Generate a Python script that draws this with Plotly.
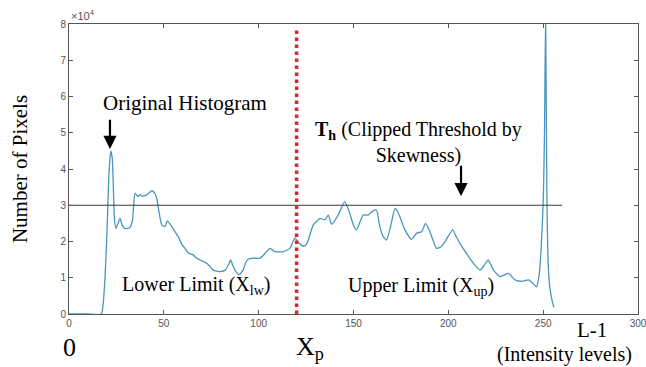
import plotly.graph_objects as go

# ---- data ----
intensity = [0, 10, 17, 18.5, 20, 21, 22, 22.8, 24, 24.8, 26.9, 28, 29.5, 32, 33.5, 34.8, 36.5, 37.5, 38.3, 40.9,
             43.6, 45, 46.2, 47.5, 48.9, 50.6, 51.8, 53, 54.1, 55.9, 57.6, 59.4, 61.1, 62.9, 65.5, 67, 69.1, 72.6,
             74.5, 76.1, 79.6, 82.3, 84, 85.2, 86.3, 87.5, 89.6, 91.8, 93, 94.5, 97.1, 100.6, 103.2, 105.9, 108.5,
             112.9, 116.4, 119.1, 120.5, 122.6, 124, 125.5, 128.8, 131, 132.3, 134.9, 136.7, 138.4, 141.9, 145.4,
             148.0, 150, 151.6, 153.5, 155.1, 157.7, 160.4, 162.1, 163.9, 165.5, 167.4, 169.5, 171.8, 173, 174.4,
             177.1, 180.6, 183.3, 185.9, 188.0, 190.3, 193.8, 196, 198.2, 200, 202.3, 204, 206.1, 209.6, 213.2,
             216.7, 219, 221.0, 222.5, 223.8, 227.3, 229.5, 231.7, 235.2, 238.7, 242.3, 244.5, 246.5, 247.5, 248.3,
             249.3, 250.1, 250.7, 251.3, 252.0, 252.8, 253.6, 255, 255.7]
pixels_1e4 = [0, 0, 0, 0.6, 2.2, 3.8, 4.5, 4.3, 2.6, 2.36, 2.64, 2.45, 2.36, 2.38, 2.6, 3.33, 3.24, 3.3, 3.25, 3.28,
              3.40, 3.35, 3.2, 2.8, 2.46, 2.41, 2.57, 2.5, 2.42, 2.27, 2.13, 1.93, 1.81, 1.68, 1.63, 1.55, 1.49, 1.40,
              1.3, 1.21, 1.17, 1.21, 1.35, 1.49, 1.35, 1.21, 1.08, 1.21, 1.4, 1.51, 1.54, 1.54, 1.66, 1.81, 1.72,
              1.72, 1.81, 2.10, 2.0, 1.90, 1.87, 1.95, 2.46, 2.58, 2.64, 2.60, 2.73, 2.48, 2.73, 3.10,
              2.78, 2.45, 2.32, 2.55, 2.73, 2.73, 2.85, 2.87, 2.41, 2.15, 2.04, 2.4, 2.91, 2.85, 2.69,
              2.32, 2.06, 2.23, 2.27, 2.50, 2.27, 1.81, 1.85, 1.99, 2.15, 2.32, 2.15, 1.95, 1.67, 1.40,
              1.21, 1.35, 1.49, 1.35, 1.21, 1.03, 1.08, 1.12, 0.94, 0.90, 0.94, 0.85, 0.75, 0.95, 1.30,
              2.2, 3.22, 5.0, 8.3, 3.0, 1.2, 0.7, 0.3, 0.18]
pixels = [v * 1e4 for v in pixels_1e4]

threshold_x = [0, 260]
threshold_y = [30000, 30000]
xp_x = [120, 120]
xp_y = [0, 79000]

x_ticks = [0, 50, 100, 150, 200, 250, 300]
y_ticks = [0, 10000, 20000, 30000, 40000, 50000, 60000, 70000, 80000]
y_ticktext = ["0", "1", "2", "3", "4", "5", "6", "7", "8"]

SERIF = "Liberation Serif, Times New Roman, serif"
SANS = "Liberation Sans, Arial, sans-serif"

fig = go.Figure()
fig.add_trace(go.Scatter(x=intensity, y=pixels, mode="lines",
                         line=dict(color="#4a96bd", width=1.3, shape="spline", smoothing=0.5),
                         hoverinfo="skip", showlegend=False))
fig.add_trace(go.Scatter(x=threshold_x, y=threshold_y, mode="lines",
                         line=dict(color="#3a3a3a", width=1.1), showlegend=False))
fig.add_trace(go.Scatter(x=xp_x, y=xp_y, mode="lines",
                         line=dict(color="#e8202a", width=3.5, dash="dot"), showlegend=False))

ax_common = dict(showgrid=False, zeroline=False, showline=True, linecolor="#555555", linewidth=1,
                 mirror="ticks", ticks="inside", ticklen=4, tickcolor="#555555", automargin=False,
                 tickfont=dict(family=SANS, size=10, color="#555555"))
fig.update_xaxes(range=[0, 300], tickvals=x_ticks, ticklabeloverflow="allow", **ax_common)
fig.update_yaxes(range=[0, 80000], tickvals=y_ticks, ticktext=y_ticktext, **ax_common)

def ann(text, x, y, size, yref="y", **kw):
    fig.add_annotation(x=x, y=y, xref="x", yref=yref, text=text, showarrow=False,
                       xanchor="center", yanchor="middle",
                       font=dict(family=SERIF, size=size, color="black"), **kw)

ann("Original Histogram", 61.4, 58200, 21)
ann("<b>T<sub>h</sub></b> (Clipped Threshold by<br>Skewness)", 184.5, 47300, 20)
ann("Lower Limit (X<sub>lw</sub>)", 67, 8000, 20)
ann("Upper Limit (X<sub>up</sub>)", 185.5, 7500, 20)
ann("0", 0.5, -0.114, 26, yref="paper")
ann("X<sub>p</sub>", 127, -0.118, 26, yref="paper")
ann("L-1", 276, -0.055, 21, yref="paper")
ann("(Intensity levels)", 261, -0.141, 20, yref="paper")

# arrows
fig.add_annotation(x=21.6, y=45500, ax=21.6, ay=54000, xref="x", yref="y", axref="x", ayref="y",
                   text="", showarrow=True, arrowhead=2, arrowsize=1.2, arrowwidth=2.2, arrowcolor="black")
fig.add_annotation(x=206.7, y=32500, ax=206.7, ay=41300, xref="x", yref="y", axref="x", ayref="y",
                   text="", showarrow=True, arrowhead=2, arrowsize=1.2, arrowwidth=2.2, arrowcolor="black")

fig.add_annotation(x=0, y=1.0, xref="paper", yref="paper", xanchor="left", yanchor="bottom",
                   text="×10<sup>4</sup>", showarrow=False,
                   font=dict(family=SANS, size=11, color="#555555"))

fig.update_layout(
    width=646, height=367,
    margin=dict(l=69, r=8, t=24, b=53),
    paper_bgcolor="white", plot_bgcolor="white",
    yaxis_title=dict(text="Number of Pixels", font=dict(family=SERIF, size=21, color="black"), standoff=27),
)

fig.write_html("out.html")
